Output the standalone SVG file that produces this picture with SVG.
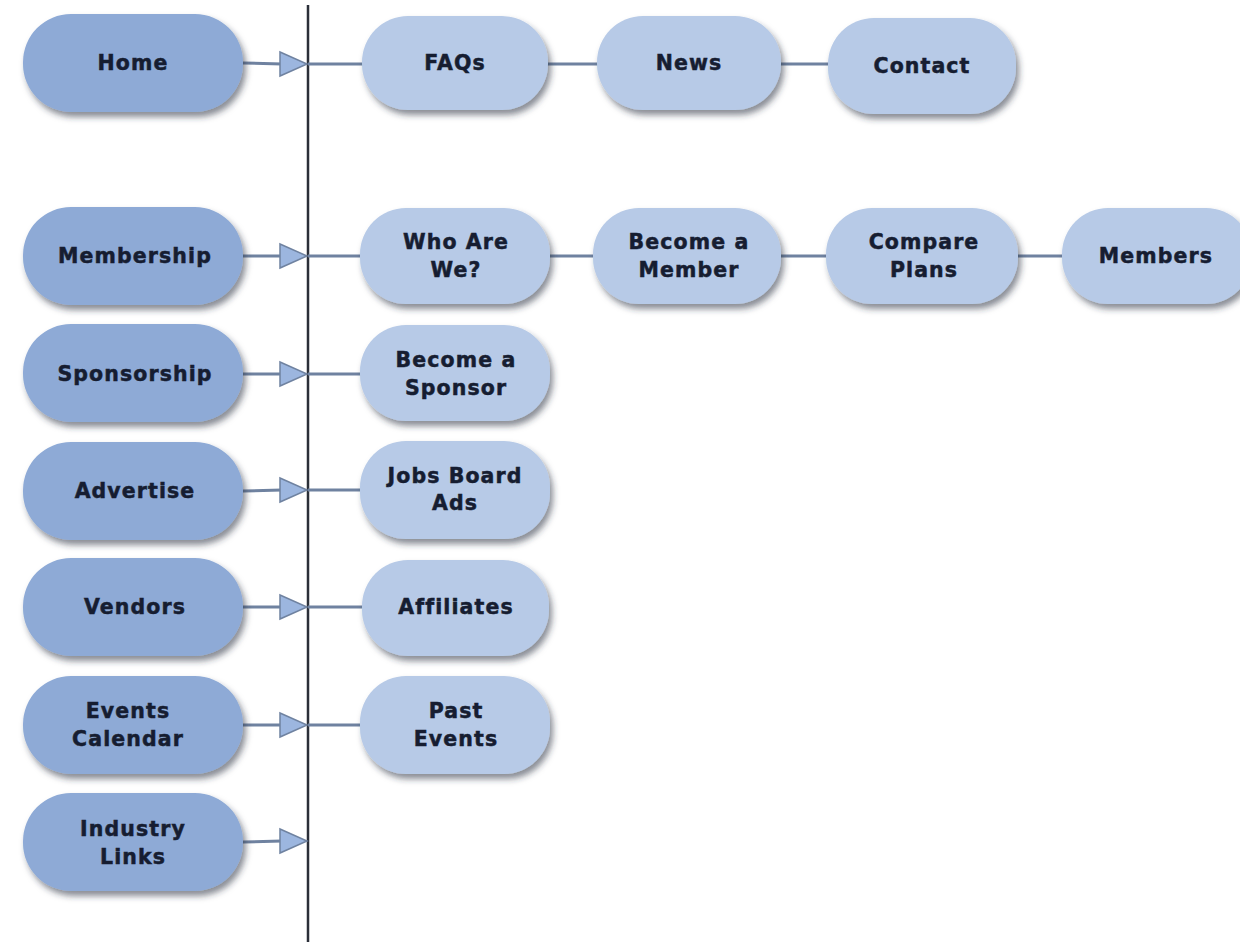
<svg xmlns="http://www.w3.org/2000/svg" width="1240" height="947" viewBox="0 0 1240 947">
<style>
.l{fill:#8eaad6;filter:url(#sh)}
.r{fill:#b7cae7;filter:url(#sh)}
.t{font-family:"DejaVu Sans",Verdana,sans-serif;font-weight:bold;font-size:20.5px;letter-spacing:1.1px;fill:#161d31;stroke:#161d31;stroke-width:0.5;text-anchor:middle;dominant-baseline:central}
.c{stroke:#6f82a0;stroke-width:3;fill:none}
.a{fill:#9cb6df;stroke:#6f82a0;stroke-width:1.5}
</style>
<defs>
<filter id="sh" x="-10%" y="-20%" width="125%" height="150%">
<feDropShadow dx="3" dy="5" stdDeviation="3" flood-color="#2a3040" flood-opacity="0.55"/>
</filter>
</defs>
<rect width="1240" height="947" fill="#ffffff"/>
<g id="connectors">
<line x1="308" y1="5" x2="308" y2="942" stroke="#2b2f38" stroke-width="2.5"/>
<line class="c" x1="243" y1="63" x2="282" y2="64"/><polygon class="a" points="280,52 307,64 280,76"/>
<line class="c" x1="308" y1="64" x2="364" y2="64"/>
<line class="c" x1="546" y1="64" x2="598" y2="64"/>
<line class="c" x1="780" y1="64" x2="830" y2="64"/>
<line class="c" x1="243" y1="256" x2="282" y2="256"/><polygon class="a" points="280,244 307,256 280,268"/>
<line class="c" x1="308" y1="256" x2="362" y2="256"/>
<line class="c" x1="548" y1="256" x2="595" y2="256"/>
<line class="c" x1="779" y1="256" x2="828" y2="256"/>
<line class="c" x1="1016" y1="256" x2="1064" y2="256"/>
<line class="c" x1="243" y1="374" x2="282" y2="374"/><polygon class="a" points="280,362 307,374 280,386"/>
<line class="c" x1="308" y1="374" x2="362" y2="374"/>
<line class="c" x1="243" y1="491" x2="282" y2="490"/><polygon class="a" points="280,478 307,490 280,502"/>
<line class="c" x1="308" y1="490" x2="362" y2="490"/>
<line class="c" x1="243" y1="607" x2="282" y2="607"/><polygon class="a" points="280,595 307,607 280,619"/>
<line class="c" x1="308" y1="607" x2="364" y2="607"/>
<line class="c" x1="243" y1="725" x2="282" y2="725"/><polygon class="a" points="280,713 307,725 280,737"/>
<line class="c" x1="308" y1="725" x2="362" y2="725"/>
<line class="c" x1="243" y1="842" x2="282" y2="841"/><polygon class="a" points="280,829 307,841 280,853"/>
</g>
<g id="home"><rect class="l" x="23" y="14" width="220" height="98" rx="48"/><text class="t" x="133" y="63">Home</text></g>
<g id="membership"><rect class="l" x="23" y="207" width="220" height="98" rx="48"/><text class="t" x="135" y="256">Membership</text></g>
<g id="sponsorship"><rect class="l" x="23" y="324" width="220" height="98" rx="48"/><text class="t" x="135" y="374">Sponsorship</text></g>
<g id="advertise"><rect class="l" x="23" y="442" width="220" height="98" rx="48"/><text class="t" x="135" y="491">Advertise</text></g>
<g id="vendors"><rect class="l" x="23" y="558" width="220" height="98" rx="48"/><text class="t" x="135" y="607">Vendors</text></g>
<g id="events"><rect class="l" x="23" y="676" width="220" height="98" rx="48"/><text class="t" x="128" y="711">Events</text><text class="t" x="128" y="739">Calendar</text></g>
<g id="industry"><rect class="l" x="23" y="793" width="220" height="98" rx="48"/><text class="t" x="133" y="829">Industry</text><text class="t" x="133" y="857">Links</text></g>
<g id="faqs"><rect class="r" x="362" y="16" width="186" height="94" rx="46"/><text class="t" x="455" y="63">FAQs</text></g>
<g id="news"><rect class="r" x="597" y="16" width="184" height="94" rx="46"/><text class="t" x="689" y="63">News</text></g>
<g id="contact"><rect class="r" x="828" y="18" width="188" height="96" rx="46"/><text class="t" x="922" y="66">Contact</text></g>
<g id="whoarewe"><rect class="r" x="360" y="208" width="190" height="96" rx="46"/><text class="t" x="456" y="242">Who Are</text><text class="t" x="456" y="270">We?</text></g>
<g id="becomemember"><rect class="r" x="593" y="208" width="188" height="96" rx="46"/><text class="t" x="689" y="242">Become a</text><text class="t" x="689" y="270">Member</text></g>
<g id="compareplans"><rect class="r" x="826" y="208" width="192" height="96" rx="46"/><text class="t" x="924" y="242">Compare</text><text class="t" x="924" y="270">Plans</text></g>
<g id="members"><rect class="r" x="1062" y="208" width="190" height="96" rx="46"/><text class="t" x="1156" y="256">Members</text></g>
<g id="becomesponsor"><rect class="r" x="360" y="325" width="190" height="96" rx="46"/><text class="t" x="456" y="360">Become a</text><text class="t" x="456" y="388">Sponsor</text></g>
<g id="jobsboard"><rect class="r" x="360" y="441" width="190" height="98" rx="46"/><text class="t" x="455" y="476">Jobs Board</text><text class="t" x="455" y="503">Ads</text></g>
<g id="affiliates"><rect class="r" x="362" y="560" width="187" height="96" rx="46"/><text class="t" x="456" y="607">Affiliates</text></g>
<g id="pastevents"><rect class="r" x="360" y="676" width="190" height="98" rx="46"/><text class="t" x="456" y="711">Past</text><text class="t" x="456" y="739">Events</text></g>
</svg>
